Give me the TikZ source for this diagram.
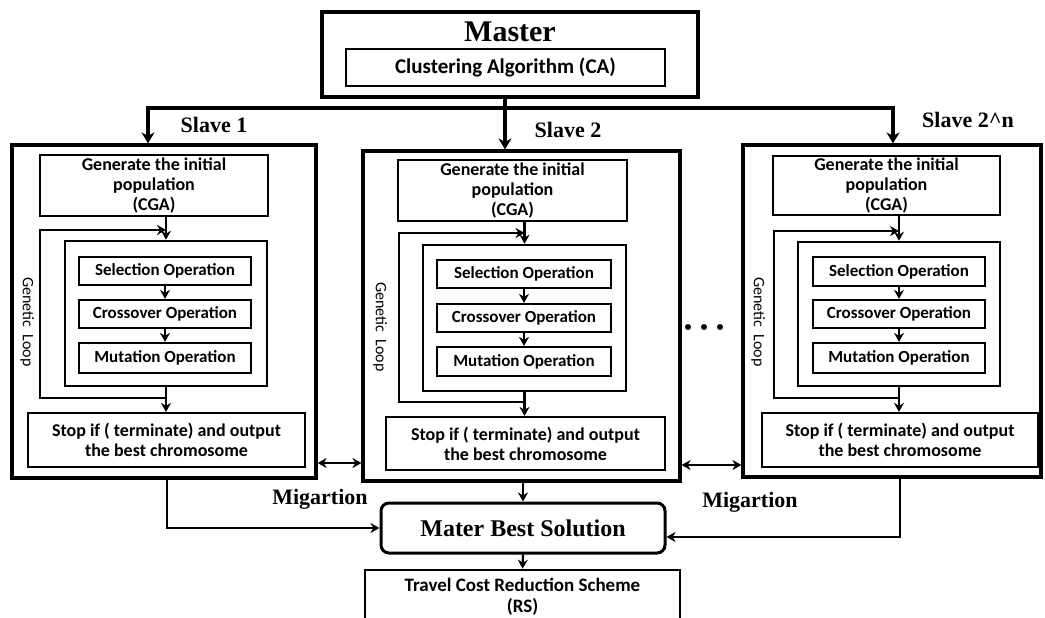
\documentclass[tikz,border=0pt]{standalone}
\usepackage{fontspec}
\setmainfont{Carlito}
\newfontfamily\serifb{Liberation Serif}
\usetikzlibrary{arrows.meta}
\begin{document}
\begin{tikzpicture}[x=1pt,y=-1pt,
  box/.style={draw, line width=2.2pt, inner sep=0pt, align=center, font=\bfseries\fontsize{18}{20}\selectfont},
  opbox/.style={draw, line width=2.2pt, inner sep=0pt, align=center, minimum height=28pt, font=\bfseries\fontsize{17}{20}\selectfont},
  outer/.style={draw, line width=3.2pt, inner sep=0pt},
  lbl/.style={font=\serifb\bfseries\fontsize{22}{24}\selectfont, inner sep=0pt},
  arr/.style={line width=2.2pt, -{Stealth[length=9pt,width=10pt]}},
  darr/.style={line width=2.2pt, {Stealth[length=9pt,width=10pt]}-{Stealth[length=9pt,width=10pt]}},
  heavy/.style={line width=3.4pt},
  heavyarr/.style={line width=3.4pt, -{Stealth[length=11pt,width=13pt]}},
  loopline/.style={line width=2.2pt},
  gl/.style={rotate=-90, font=\fontsize{16}{18}\selectfont, inner sep=0pt},
  dot/.style={circle, fill, inner sep=0pt, minimum size=6pt}
]
\useasboundingbox (0,0) rectangle (1045,618);
\clip (0,0) rectangle (1045,618);

% ---------- Master ----------
\node[outer, line width=3.4pt, minimum width=376pt, minimum height=85pt] (M) at (510,54.5) {};
\node[lbl, font=\serifb\bfseries\fontsize{30}{32}\selectfont] (Mt) at (510,32) {Master};
\node[box, line width=2.6pt, minimum width=319pt, minimum height=37pt, font=\bfseries\fontsize{21}{24}\selectfont] (CA) at (505.5,67.5) {Clustering Algorithm (CA)};

% ---------- Slave boxes ----------
\node[outer, minimum width=304pt, minimum height=333pt] (S1) at (164,311.5) {};
\node[outer, minimum width=317pt, minimum height=330pt] (S2) at (521.5,316) {};
\node[outer, minimum width=298pt, minimum height=332pt] (S3) at (892,311) {};

\node[lbl] (s1l) at (214,125) {Slave 1};
\node[lbl] (s2l) at (568,130) {Slave 2};
\node[lbl] (s3l) at (968,120) {Slave 2\textasciicircum n};

% distribution
\coordinate (top) at (505,108);
\draw[heavy] (M.south -| top) -- (top);
\draw[heavyarr] (top) -| (148,0 |- S1.north);
\draw[heavyarr] (top) -- (top |- S2.north);
\draw[heavyarr] (top) -| (893,0 |- S3.north);

% ---------- Slave 1 contents ----------
\node[box, minimum width=228pt, minimum height=61pt] (G1) at (154,185.5) {Generate the initial\\population\\(CGA)};
\node[box, line width=2.6pt, minimum width=202pt, minimum height=145pt] (I1) at (166,313.5) {};
\node[opbox, minimum width=172pt] (A1) at (165,271) {Selection Operation};
\node[opbox, minimum width=172pt] (B1) at (165,314) {Crossover Operation};
\node[opbox, minimum width=172pt, minimum height=30pt] (C1) at (165,358) {Mutation Operation};
\node[box, minimum width=277pt, minimum height=54pt] (T1) at (166.5,440) {Stop if ( terminate) and output\\the best chromosome};
\node[gl] (g1) at (27,322) {Genetic\ \ Loop};
\draw[arr] (G1.south -| I1.north) -- (I1.north);
\draw[arr] (A1) -- (B1);
\draw[arr] (B1) -- (C1);
\draw[arr] (I1.south) -- (I1.south |- T1.north);
\draw[loopline, -{Stealth[length=9pt,width=10pt]}] (I1.south |- 0,398) -- (40,398) -- (40,230) -- (I1.north |- 0,230);

% ---------- Slave 2 contents ----------
\node[box, minimum width=229pt, minimum height=61pt] (G2) at (512.5,190.5) {Generate the initial\\population\\(CGA)};
\node[box, line width=2.6pt, minimum width=203pt, minimum height=146pt] (I2) at (524.5,318) {};
\node[opbox, minimum width=174pt] (A2) at (524,274) {Selection Operation};
\node[opbox, minimum width=174pt] (B2) at (524,318) {Crossover Operation};
\node[opbox, minimum width=174pt, minimum height=29pt] (C2) at (524,361.5) {Mutation Operation};
\node[box, minimum width=279pt, minimum height=53pt] (T2) at (525.5,443.5) {Stop if ( terminate) and output\\the best chromosome};
\node[gl] (g2) at (380,327) {Genetic\ \ Loop};
\draw[arr] (G2.south -| I2.north) -- (I2.north);
\draw[arr] (A2) -- (B2);
\draw[arr] (B2) -- (C2);
\draw[arr] (I2.south) -- (I2.south |- T2.north);
\draw[loopline, -{Stealth[length=9pt,width=10pt]}] (I2.south |- 0,402) -- (399,402) -- (399,233) -- (I2.north |- 0,233);

% ---------- Slave 3 contents ----------
\node[box, minimum width=227pt, minimum height=59pt] (G3) at (886.5,185.5) {Generate the initial\\population\\(CGA)};
\node[box, line width=2.6pt, minimum width=202pt, minimum height=144pt] (I3) at (899,314) {};
\node[opbox, minimum width=172pt, minimum height=29pt] (A3) at (899,271.5) {Selection Operation};
\node[opbox, minimum width=172pt] (B3) at (899,314) {Crossover Operation};
\node[opbox, minimum width=172pt, minimum height=30pt] (C3) at (899,358) {Mutation Operation};
\node[box, minimum width=276pt, minimum height=54pt] (T3) at (900,440) {Stop if ( terminate) and output\\the best chromosome};
\node[gl] (g3) at (758,322) {Genetic\ \ Loop};
\draw[arr] (G3.south -| I3.north) -- (I3.north);
\draw[arr] (A3) -- (B3);
\draw[arr] (B3) -- (C3);
\draw[arr] (I3.south) -- (I3.south |- T3.north);
\draw[loopline, -{Stealth[length=9pt,width=10pt]}] (I3.south |- 0,398) -- (774,398) -- (774,231) -- (I3.north |- 0,231);

% dots
\node[dot] (d1) at (688,327) {};
\node[dot] (d2) at (704,327) {};
\node[dot] (d3) at (720,327) {};

% migration arrows
\draw[darr] (S1.east |- 0,463) -- (S2.west |- 0,463);
\draw[darr] (S2.east |- 0,465) -- (S3.west |- 0,465);
\node[lbl] (mg1) at (320,499) {Migartion};
\node[lbl] (mg2) at (750,502) {Migartion};

% ---------- Master best / travel ----------
\node[draw, line width=3pt, rounded corners=8pt, minimum width=284pt, minimum height=50pt, inner sep=0pt,
      font=\serifb\bfseries\fontsize{24}{26}\selectfont] (MB) at (523,528) {Mater Best Solution};
\node[draw, line width=2.6pt, minimum width=315pt, minimum height=54pt, inner sep=0pt, align=center,
      font=\bfseries\fontsize{19}{21}\selectfont] (TR) at (522.5,597) {Travel Cost Reduction Scheme\\(RS)};

\draw[arr] (S1.south -| 167,0) |- (MB.west);
\draw[arr] (S2.south -| MB.north) -- (MB.north);
\draw[arr] (S3.south -| 900,0) |- ([yshift=-9pt]MB.east);
\draw[arr] (MB.south) -- (TR.north);
\end{tikzpicture}
\end{document}
